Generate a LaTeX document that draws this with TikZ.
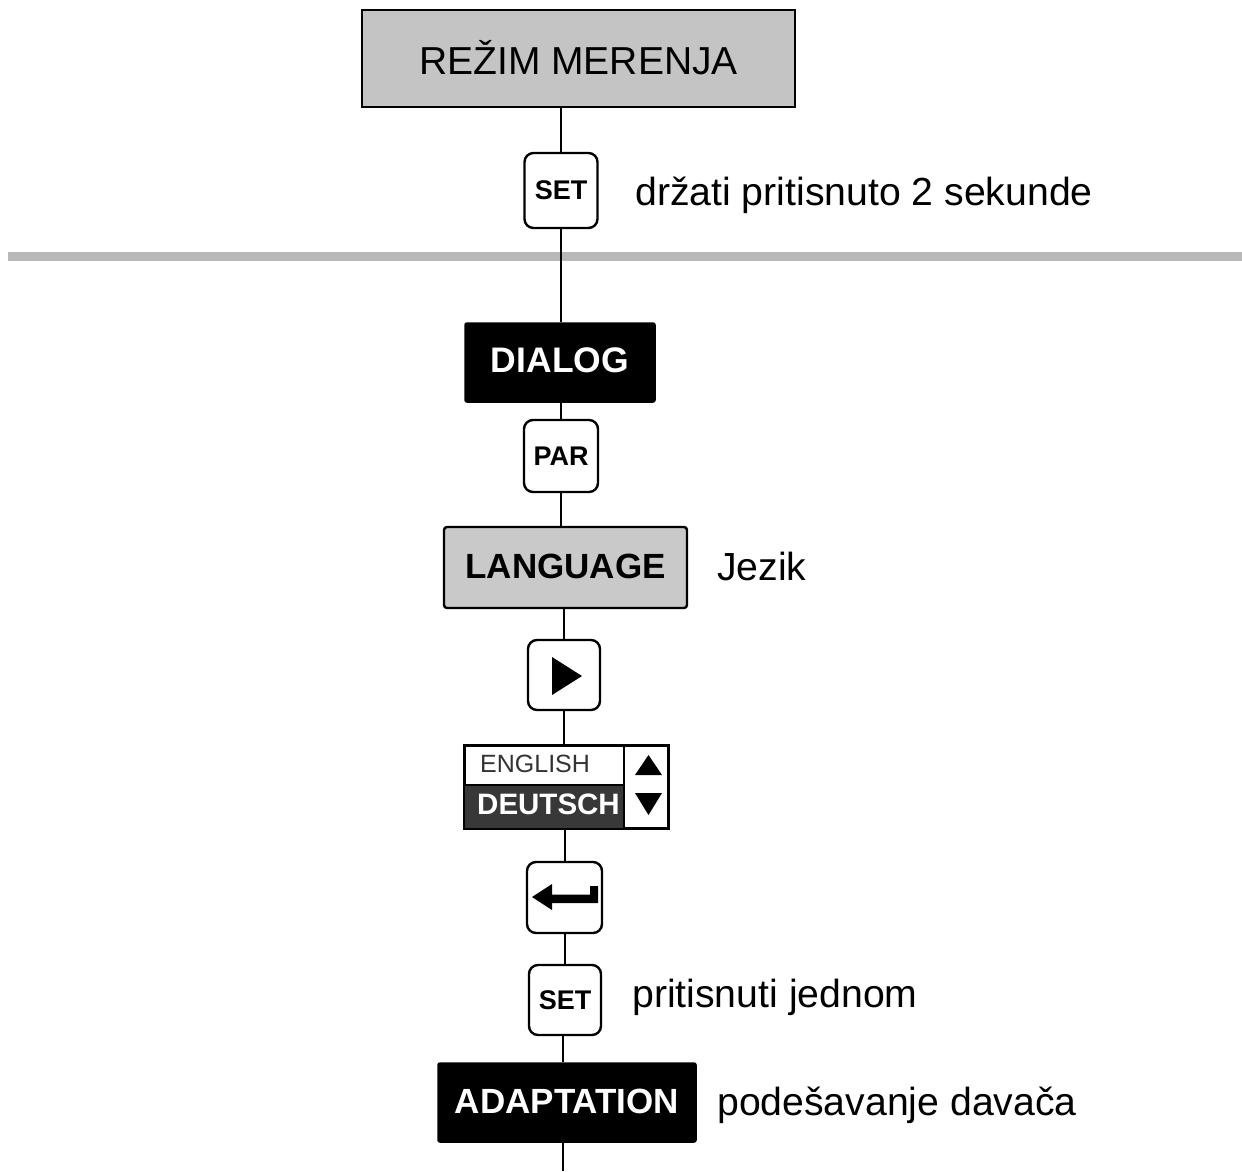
\documentclass[tikz,border=0pt]{standalone}
\usepackage{fontspec}
\setmainfont{Liberation Sans}
\begin{document}
\begin{tikzpicture}[x=1pt,y=-1pt,
  btn/.style={draw, line width=2.4pt, rounded corners=9pt, fill=white, inner sep=0pt,
     font=\fontsize{27}{29}\selectfont\bfseries},
  blackbox/.style={draw, fill=black, text=white, line width=1.5pt, rounded corners=2pt, inner sep=0pt,
     font=\fontsize{35.5}{37}\selectfont\bfseries},
  lbl/.style={inner sep=0pt, font=\fontsize{39.2}{41}\selectfont},
  conn/.style={line width=2pt}]
\useasboundingbox (0,0) rectangle (1242,1171);
% top box
\node[draw, line width=2pt, fill=black!23, minimum width=433pt, minimum height=97pt, inner sep=0pt,
  font=\fontsize{39}{41}\selectfont] (mode) at (578.5,58.5) {\raisebox{2pt}{REŽIM MERENJA}};
\node[btn, minimum width=73pt, minimum height=75pt] (set1) at (561,190.5) {SET};
\node[lbl, anchor=base west] (t1) at (635,205) {držati pritisnuto 2 sekunde};
% separator
\draw[line width=9pt, color=black!28] (8,256) -- (1242,256);
\node[blackbox, minimum width=190pt, minimum height=79pt] (dialog) at (560,362.5) {\raisebox{5pt}{DIALOG}};
\node[btn, minimum width=74pt, minimum height=72pt] (par) at (561,456) {PAR};
\node[draw, line width=2.4pt, rounded corners=3pt, fill=black!21, minimum width=243pt, minimum height=81pt, inner sep=0pt,
  font=\fontsize{35}{37}\selectfont\bfseries] (lang) at (565.5,567.5) {\raisebox{2pt}{LANGUAGE}};
\node[lbl, anchor=base west] (t2) at (717,580) {Jezik};
\node[btn, minimum width=72pt, minimum height=70pt] (play) at (564,675) {};
\fill (552,657) -- (582,676) -- (552,695) -- cycle;
% language list
\node[draw, line width=2pt, fill=white, minimum width=203pt, minimum height=82pt, inner sep=0pt] (list) at (566.5,786.5) {};
\fill[black!78] (465,785) rectangle (624,828);
\draw[line width=2pt] (465,785) -- (624,785);
\draw[line width=2pt] (624,746) -- (624,828);
\draw[line width=2pt] (list.north west) rectangle (list.south east);
\node[inner sep=0pt, anchor=base west, text=black!80, font=\fontsize{25}{27}\selectfont] (en) at (480,772) {ENGLISH};
\node[inner sep=0pt, anchor=base west, text=white, font=\fontsize{29.5}{31}\selectfont\bfseries] (de) at (477,814) {DEUTSCH};
\fill (635,775) -- (648.5,755) -- (662,775) -- cycle;
\fill (635,793) -- (662,793) -- (648.5,815) -- cycle;
\node[btn, minimum width=75pt, minimum height=71pt] (enter) at (564.5,897.5) {};
\fill (532,897) -- (552,884) -- (552,894.5) -- (590,894.5) -- (590,886) -- (598,886) -- (598,903) -- (552,903) -- (552,910) -- cycle;
\node[btn, minimum width=72pt, minimum height=70pt] (set2) at (565,1000) {SET};
\node[lbl, anchor=base west] (t3) at (632,1007) {pritisnuti jednom};
\node[blackbox, minimum width=258pt, minimum height=79pt, font=\fontsize{35}{37}\selectfont\bfseries] (adapt) at (567,1102.5) {\raisebox{2pt}{ADAPTATION}};
\node[lbl, anchor=base west] (t4) at (717,1115) {podešavanje davača};
\coordinate (bottom) at (563,1171);
% connectors
\draw[conn] (mode.south -| set1) -- (set1.north);
\draw[conn] (set1.south) -- (set1.south |- dialog.north);
\draw[conn] (dialog.south -| par) -- (par.north);
\draw[conn] (par.south) -- (par.south |- lang.north);
\draw[conn] (lang.south -| play) -- (play.north);
\draw[conn] (play.south) -- (play.south |- list.north);
\draw[conn] (list.south -| enter) -- (enter.north);
\draw[conn] (enter.south) -- (enter.south |- set2.north);
\draw[conn] (set2.south -| bottom) -- (adapt.north -| bottom);
\draw[conn] (adapt.south -| bottom) -- (bottom);
\end{tikzpicture}
\end{document}
